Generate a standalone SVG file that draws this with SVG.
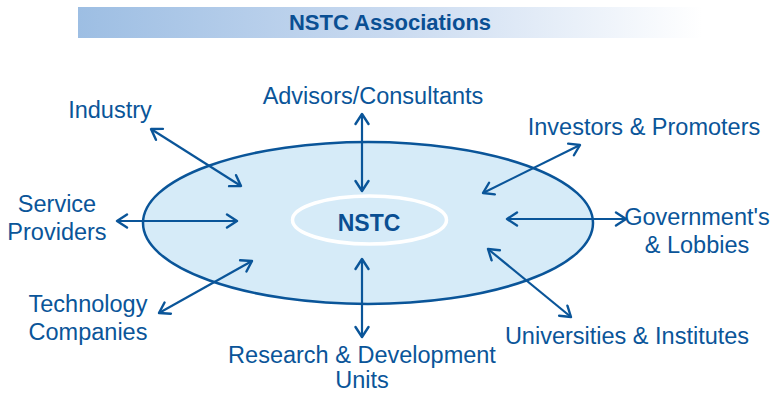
<svg xmlns="http://www.w3.org/2000/svg" width="773" height="394" viewBox="0 0 773 394">
<defs>
<linearGradient id="banner" x1="0" y1="0" x2="1" y2="0">
<stop offset="0" stop-color="#9dbee3"/>
<stop offset="0.5" stop-color="#c9daf0"/>
<stop offset="1" stop-color="#ffffff"/>
</linearGradient>
<marker id="ah" viewBox="-12 -8 14 16" markerWidth="14" markerHeight="16" refX="0" refY="0" orient="auto-start-reverse" markerUnits="userSpaceOnUse">
<path d="M-10,-6.5 L0,0 L-10,6.5" fill="none" stroke="#0a5599" stroke-width="2.4" stroke-linecap="round" stroke-linejoin="round"/>
</marker>
<style>
.lbl{font-family:"Liberation Sans",Arial,sans-serif;font-size:23.5px;fill:#0a5599;text-anchor:middle}
.ttl{font-family:"Liberation Sans",Arial,sans-serif;font-size:22px;font-weight:bold;fill:#0a4f93;text-anchor:middle}
.con{stroke:#0a5599;stroke-width:2.2;fill:none;marker-start:url(#ah);marker-end:url(#ah)}
</style>
</defs>
<rect x="78" y="7" width="624" height="31" fill="url(#banner)"/>
<text class="ttl" x="390" y="30">NSTC Associations</text>
<g id="hub">
<ellipse cx="368" cy="223" rx="225" ry="81" fill="#d6ebf8" stroke="#0a5599" stroke-width="2.5"/>
</g>
<g id="nstc">
<ellipse cx="369.5" cy="220" rx="77" ry="24" fill="none" stroke="#ffffff" stroke-width="3.5"/>
<text class="ttl" x="369" y="231" style="font-size:23px">NSTC</text>
</g>
<g id="connectors">
<line class="con" x1="362" y1="114" x2="362" y2="191"/>
<line class="con" x1="362" y1="259" x2="362" y2="337"/>
<line class="con" x1="151" y1="129" x2="241" y2="186"/>
<line class="con" x1="580" y1="145" x2="483" y2="193"/>
<line class="con" x1="117" y1="221" x2="237" y2="221"/>
<line class="con" x1="507" y1="219" x2="626" y2="219"/>
<line class="con" x1="159" y1="313" x2="252" y2="261"/>
<line class="con" x1="488" y1="249" x2="571" y2="317"/>
</g>
<g id="advisors"><text class="lbl" x="373" y="104">Advisors/Consultants</text></g>
<g id="industry"><text class="lbl" x="110" y="118">Industry</text></g>
<g id="investors"><text class="lbl" x="644" y="135">Investors &amp; Promoters</text></g>
<g id="service"><text class="lbl" x="57" y="212">Service</text><text class="lbl" x="57" y="240">Providers</text></g>
<g id="government"><text class="lbl" x="697" y="225">Government's</text><text class="lbl" x="697" y="253">&amp; Lobbies</text></g>
<g id="technology"><text class="lbl" x="88" y="312">Technology</text><text class="lbl" x="88" y="340">Companies</text></g>
<g id="research"><text class="lbl" x="362" y="363">Research &amp; Development</text><text class="lbl" x="362" y="388">Units</text></g>
<g id="universities"><text class="lbl" x="627" y="344">Universities &amp; Institutes</text></g>
</svg>
